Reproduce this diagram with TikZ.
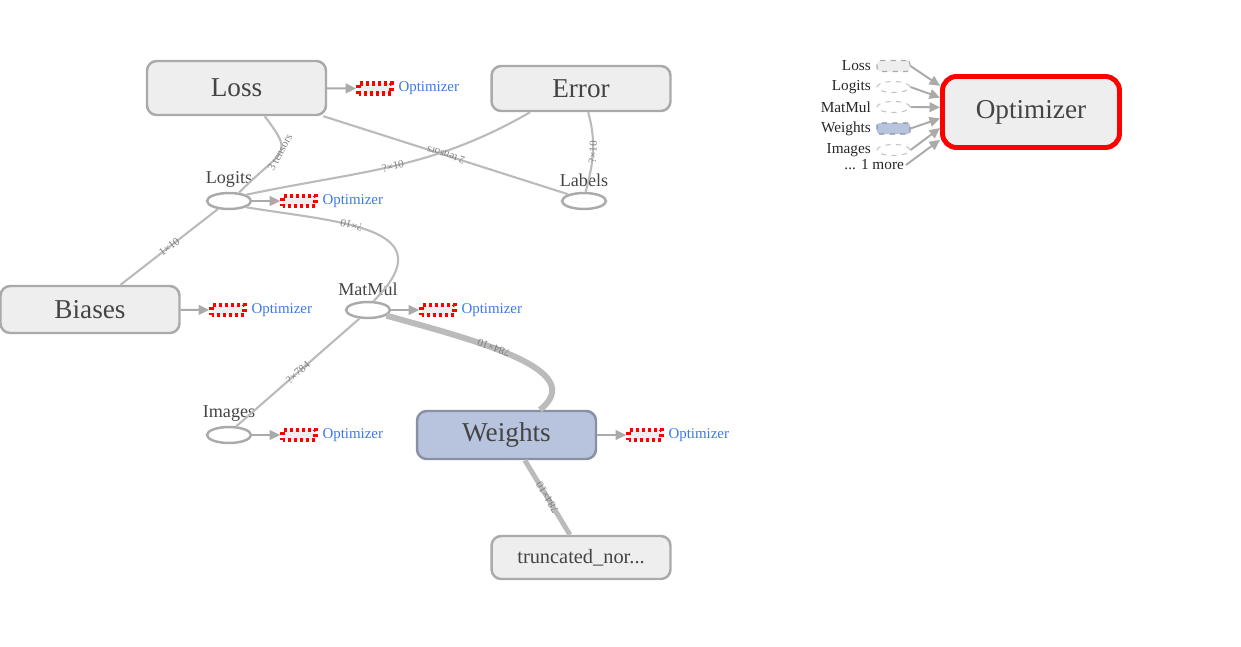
\documentclass[tikz,border=0pt]{standalone}
\usepackage{fontspec}
\setmainfont{Liberation Serif}
\usetikzlibrary{shapes.geometric,arrows.meta,positioning}

\definecolor{boxfill}{HTML}{EEEEEE}
\definecolor{boxline}{HTML}{AAAAAA}
\definecolor{wfill}{HTML}{B8C4DE}
\definecolor{wline}{HTML}{8A90A3}
\definecolor{edgegray}{HTML}{BBBBBB}
\definecolor{txtgray}{HTML}{444444}
\definecolor{optblue}{HTML}{3B78E7}

\tikzset{
  box/.style={draw=boxline, fill=boxfill, line width=1.4pt, rounded corners=5.5pt,
    minimum width=3.58cm, text=txtgray, font=\fontsize{15.5}{17}\selectfont},
  wbox/.style={box, draw=wline, fill=wfill},
  obox/.style={box, draw=red, line width=2.8pt, rounded corners=8pt},
  ell/.style={ellipse, draw=boxline, fill=white, line width=1.4pt,
    minimum width=0.88cm, minimum height=0.32cm, inner sep=0pt},
  lab/.style={text=txtgray, font=\fontsize{10.3}{12}\selectfont, inner sep=1pt},
  stub/.style={draw=red, fill=boxfill, line width=2.6pt, dash pattern=on 1.7pt off 1.7pt,
    minimum width=0.66cm, minimum height=0.2cm, inner sep=0pt},
  optxt/.style={text=optblue, font=\fontsize{8.5}{10}\selectfont, inner sep=1pt},
  edge/.style={draw=edgegray, line width=1.2pt},
  elab/.style={sloped, allow upside down, text=gray, font=\fontsize{6.3}{7}\selectfont, inner sep=0.5pt},
  arr/.style={draw=boxline, line width=1.1pt, -{Triangle[length=6pt,width=5.5pt]}},
  mini/.style={draw=boxline, dashed, line width=0.6pt, minimum width=0.66cm,
    minimum height=0.22cm, inner sep=0pt},
  minilab/.style={text=black!85, font=\fontsize{8.7}{10}\selectfont, inner sep=1pt},
}

\begin{document}
\begin{tikzpicture}[x=0.02cm, y=0.02cm]
  \useasboundingbox (0,0) rectangle (1241,-646);

  % 四角いノード
  \node[box, minimum height=1.08cm] (loss) at (236.5,-88) {Loss};
  \node[box, minimum height=0.9cm] (error) at (581,-88.5) {Error};
  \node[box, minimum height=0.94cm] (biases) at (90,-309.5) {Biases};
  \node[wbox, minimum height=0.96cm] (weights) at (506.5,-435) {Weights};
  \node[box, minimum height=0.86cm, font=\fontsize{11.6}{13}\selectfont] (trunc) at (581,-557.5) {truncated\_nor...};
  \node[obox, minimum width=3.54cm, minimum height=1.42cm] (opt) at (1031,-112) {Optimizer};

  % 楕円ノード(ラベルは上)
  \node[ell, label={[lab, label distance=1.5pt]above:Logits}] (logits) at (229,-201) {};
  \node[ell, label={[lab, label distance=1.5pt]above:Labels}] (labels) at (584,-201) {};
  \node[ell, label={[lab, label distance=1.5pt]above:MatMul}] (matmul) at (368,-310) {};
  \node[ell, label={[lab, label distance=1.5pt]above:Images}] (images) at (229,-435) {};

  % エッジ
  \draw[edge] (logits.40) .. controls +(45,45) and +(30,-40) .. node[elab]{3 tensors} (loss.-45);
  \draw[edge] (logits.20) to[out=12, in=-150] node[elab]{?×10} (error.205);
  \draw[edge] (labels.157) -- node[elab]{2 tensors} (loss.-18);
  \draw[edge] (labels.80) to[out=75, in=-75] node[elab]{?×10} (error.-73);
  \draw[edge] (biases.39) -- node[elab]{1×10} (logits.216);
  \draw[edge] (matmul.58) .. controls +(75,75) and +(90,-15) .. node[elab, pos=0.6]{?×10} (logits.-20);
  \draw[edge] (images.50) -- node[elab]{?×784} (matmul.225);
  \draw[edge, line width=3.4pt] (weights.37) .. controls +(50,40) and +(90,-25) .. node[elab, pos=0.6]{784×10} (matmul.-17);
  \draw[edge, line width=2.8pt] (trunc.116) -- node[elab]{784×10} (weights.-54);

  % Optimizer への出力
  \node[stub] (lossop) at (375,-88.5) {};
  \node[optxt, right=1.5pt of lossop] (lossoptxt) {Optimizer};
  \draw[arr] (loss) -- (lossop);
  \node[stub] (logitsop) at (299,-201) {};
  \node[optxt, right=1.5pt of logitsop] (logitsoptxt) {Optimizer};
  \draw[arr] (logits) -- (logitsop);
  \node[stub] (biasesop) at (228,-310) {};
  \node[optxt, right=1.5pt of biasesop] (biasesoptxt) {Optimizer};
  \draw[arr] (biases) -- (biasesop);
  \node[stub] (matmulop) at (438,-310) {};
  \node[optxt, right=1.5pt of matmulop] (matmuloptxt) {Optimizer};
  \draw[arr] (matmul) -- (matmulop);
  \node[stub] (imagesop) at (299,-435) {};
  \node[optxt, right=1.5pt of imagesop] (imagesoptxt) {Optimizer};
  \draw[arr] (images) -- (imagesop);
  \node[stub] (weightsop) at (645,-435) {};
  \node[optxt, right=1.5pt of weightsop] (weightsoptxt) {Optimizer};
  \draw[arr] (weights) -- (weightsop);

  % 右側の入力一覧
  \node[mini, fill=boxfill, rounded corners=2pt] (mloss) at (893.5,-66) {};
  \node[minilab, left=2pt of mloss] (mlosslab) {Loss};
  \node[mini, ellipse, draw=boxline!70] (mlogits) at (893.5,-87) {};
  \node[minilab, left=2pt of mlogits] (mlogitslab) {Logits};
  \node[mini, ellipse, draw=boxline!70] (mmatmul) at (893.5,-107) {};
  \node[minilab, left=2pt of mmatmul] (mmatmullab) {MatMul};
  \node[mini, fill=wfill, draw=wline, rounded corners=1pt] (mweights) at (893.5,-128.5) {};
  \node[minilab, left=2pt of mweights] (mweightslab) {Weights};
  \node[mini, ellipse, draw=boxline!70] (mimages) at (893.5,-150) {};
  \node[minilab, left=2pt of mimages] (mimageslab) {Images};
  \node[minilab, anchor=east] (more) at (906,-165) {... 1 more};

  \draw[arr] (mloss.east) -- (opt.164);
  \draw[arr] (mlogits.east) -- (opt.171);
  \draw[arr] (mmatmul.east) -- (opt.177);
  \draw[arr] (mweights.east) -- (opt.184);
  \draw[arr] (mimages.east) -- (opt.190);
  \draw[arr] (more.east) -- (opt.197);
\end{tikzpicture}
\end{document}
